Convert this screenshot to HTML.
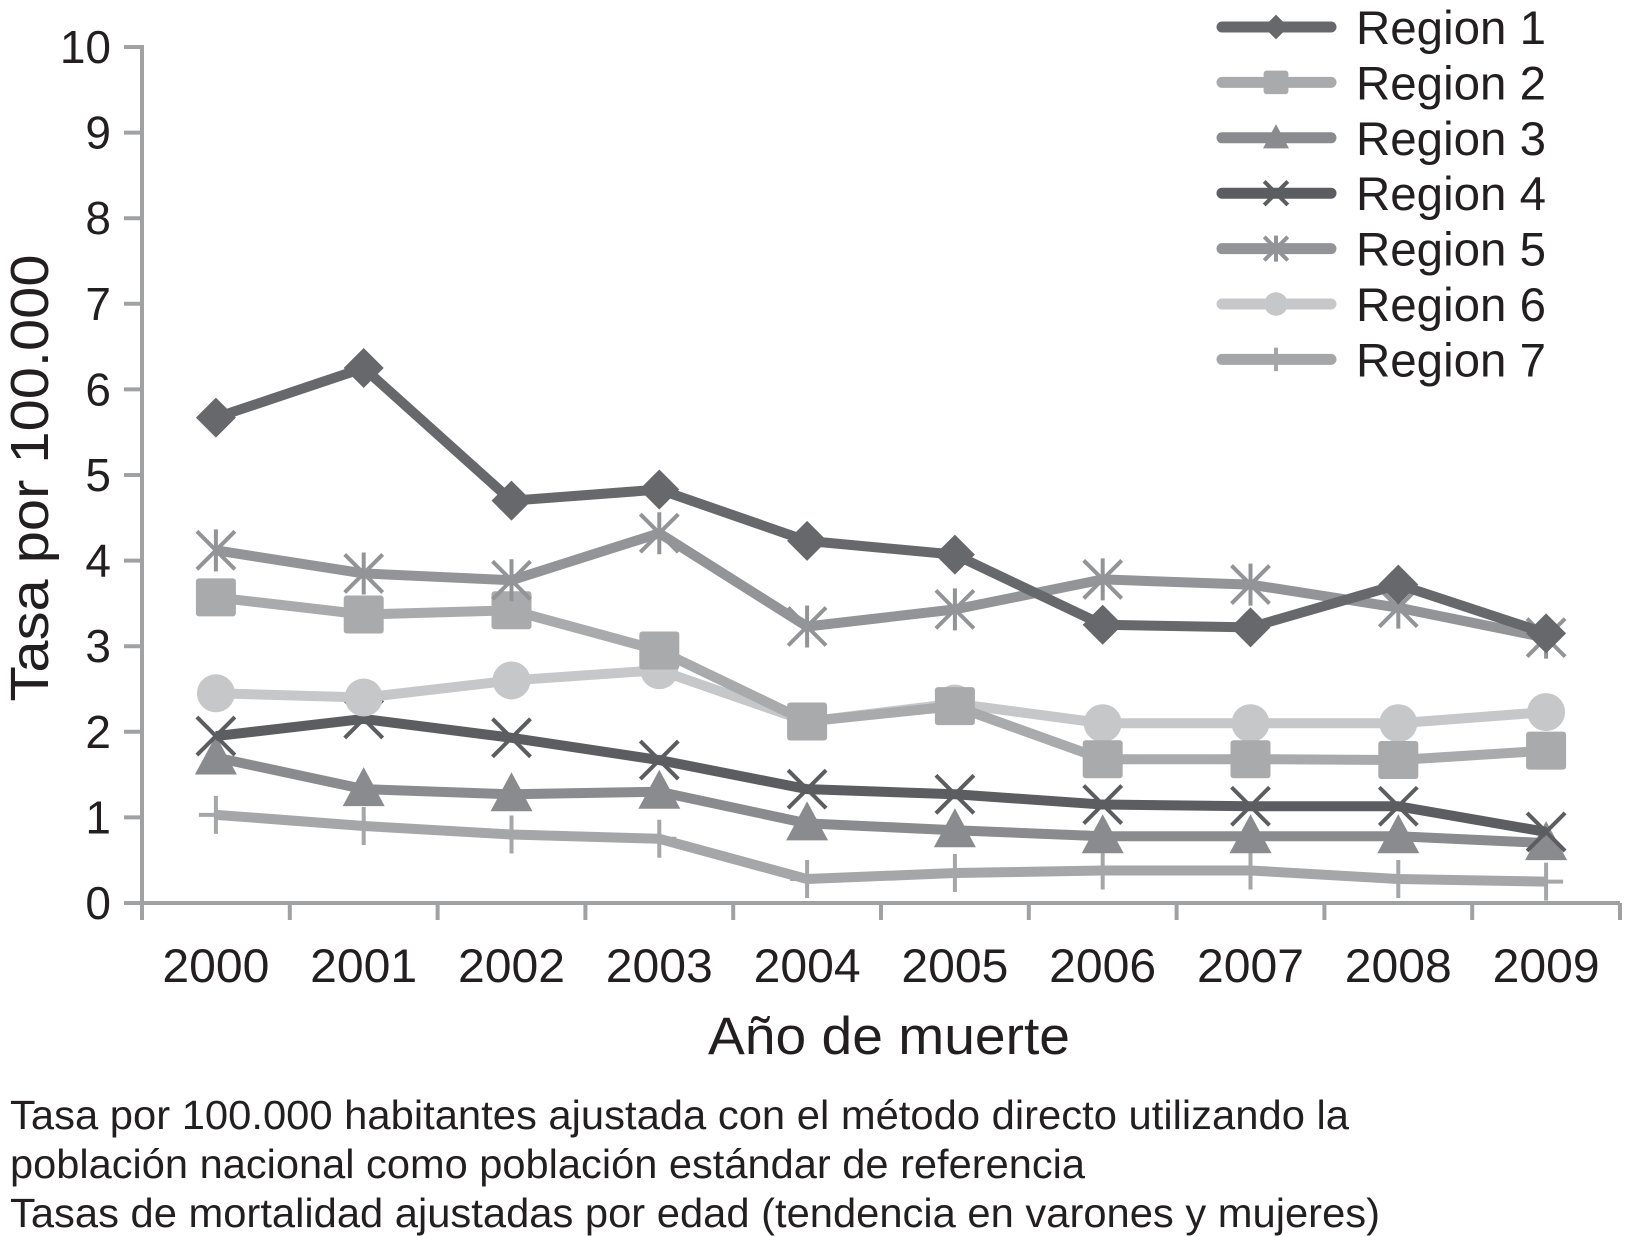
<!DOCTYPE html>
<html><head><meta charset="utf-8"><style>
html,body{margin:0;padding:0;background:#fff;}
svg{display:block;font-family:"Liberation Sans",Arial,sans-serif;}
</style></head><body>
<svg id="chart" width="1631" height="1237" viewBox="0 0 1631 1237" xmlns="http://www.w3.org/2000/svg">
<g id="axes"></g>
<g id="series"></g>
<g id="legend"></g>
<text x="889" y="1054" font-size="53" text-anchor="middle" textLength="362" lengthAdjust="spacingAndGlyphs" fill="#231f20">Año de muerte</text>
<text transform="translate(48,478) rotate(-90)" font-size="54" text-anchor="middle" textLength="447" lengthAdjust="spacingAndGlyphs" fill="#231f20">Tasa por  100.000</text>
<text x="10" y="1129" font-size="41" textLength="1339" lengthAdjust="spacingAndGlyphs" fill="#231f20">Tasa por 100.000 habitantes ajustada con el método directo utilizando la</text>
<text x="10" y="1178" font-size="41" textLength="1075" lengthAdjust="spacingAndGlyphs" fill="#231f20">población nacional como población estándar de referencia</text>
<text x="10" y="1227" font-size="41" textLength="1370" lengthAdjust="spacingAndGlyphs" fill="#231f20">Tasas de mortalidad ajustadas por edad (tendencia en varones y mujeres)</text>
</svg>
<script>
const categories = ["2000","2001","2002","2003","2004","2005","2006","2007","2008","2009"];
const yTicks = [0,1,2,3,4,5,6,7,8,9,10];
const seriesNames = ["Region 1","Region 2","Region 3","Region 4","Region 5","Region 6","Region 7"];
const region1 = [5.67,6.25,4.7,4.83,4.23,4.07,3.25,3.22,3.72,3.15];
const region2 = [3.57,3.37,3.42,2.95,2.12,2.3,1.68,1.68,1.67,1.78];
const region3 = [1.7,1.33,1.27,1.3,0.93,0.85,0.78,0.78,0.78,0.7];
const region4 = [1.95,2.15,1.93,1.67,1.33,1.27,1.15,1.13,1.13,0.83];
const region5 = [4.12,3.85,3.77,4.32,3.23,3.43,3.78,3.72,3.45,3.1];
const region6 = [2.45,2.4,2.6,2.72,2.12,2.33,2.1,2.1,2.1,2.23];
const region7 = [1.03,0.9,0.8,0.75,0.28,0.35,0.38,0.38,0.28,0.25];

const NS="http://www.w3.org/2000/svg";
const X0=142, X1=1620, Y0=903, Y10=47;
const catW=(X1-X0)/categories.length;
function xPos(i){return X0+catW*(i+0.5);}
function yPos(v){return Y0-(Y0-Y10)*v/10;}
function mk(tag,attrs,parent){const e=document.createElementNS(NS,tag);for(const k in attrs)e.setAttribute(k,attrs[k]);parent.appendChild(e);return e;}

const axes=document.getElementById('axes');
const axisCol="#a0a1a3";
let e=mk('line',{x1:X0,y1:Y10-2,x2:X0,y2:Y0,stroke:axisCol,'stroke-width':4},axes);


e=mk('line',{x1:X0-18,y1:Y0,x2:X1,y2:Y0,stroke:axisCol,'stroke-width':4},axes);


yTicks.forEach(v=>{
  const t=mk('line',{x1:X0-18,y1:yPos(v),x2:X0,y2:yPos(v),stroke:axisCol,'stroke-width':4},axes);
  
  
  const l=mk('text',{x:111,y:yPos(v)+16,'font-size':46,'text-anchor':'end',fill:'#231f20'},axes);
  l.textContent=v;
  
  
});
for(let i=0;i<=categories.length;i++){
  const t=mk('line',{x1:X0+catW*i,y1:Y0,x2:X0+catW*i,y2:Y0+17,stroke:axisCol,'stroke-width':4},axes);
  
  
}
categories.forEach((c,i)=>{
  const l=mk('text',{x:xPos(i),y:982,'font-size':47,'text-anchor':'middle',textLength:107,lengthAdjust:'spacingAndGlyphs',fill:'#231f20'},axes);
  l.textContent=c;
  
  
});

const allData=[region1,region2,region3,region4,region5,region6,region7];
const colors=["#67686b","#a9aaac","#8a8b8e","#5c5d60","#939497","#c6c7c9","#a5a6a8"];
const markers=["diamond","square","triangle","x","star","circle","plus"];

function drawMarker(g,type,cx,cy,col,s){
  let m;
  if(type==="diamond") m=mk('polygon',{points:`${cx},${cy-20*s} ${cx+20*s},${cy} ${cx},${cy+20*s} ${cx-20*s},${cy}`,fill:col},g);
  else if(type==="square") m=mk('rect',{x:cx-20*s,y:cy-19*s,width:40*s,height:38*s,rx:3,fill:col},g);
  else if(type==="triangle") m=mk('polygon',{points:`${cx},${cy-22*s} ${cx+21*s},${cy+17*s} ${cx-21*s},${cy+17*s}`,fill:col},g);
  else if(type==="circle") m=mk('circle',{cx:cx,cy:cy,r:19*s,fill:col},g);
  else if(type==="x"){m=mk('path',{d:`M${cx-19*s} ${cy-19*s}L${cx+19*s} ${cy+19*s}M${cx+19*s} ${cy-19*s}L${cx-19*s} ${cy+19*s}`,stroke:col,'stroke-width':4,fill:'none'},g);}
  else if(type==="star"){m=mk('path',{d:`M${cx-19*s} ${cy-19*s}L${cx+19*s} ${cy+19*s}M${cx+19*s} ${cy-19*s}L${cx-19*s} ${cy+19*s}M${cx} ${cy-21*s}L${cx} ${cy+21*s}`,stroke:col,'stroke-width':4,fill:'none'},g);}
  else if(type==="plus"){m=mk('path',{d:`M${cx} ${cy-19*s}L${cx} ${cy+19*s}M${cx-17} ${cy}L${cx+17} ${cy}`,stroke:col,'stroke-width':4,fill:'none'},g);}
  
  
}

const seriesG=document.getElementById('series');
const order=[6,2,3,5,1,4,0];
order.forEach(si=>{
  const data=allData[si];
  const g=mk('g',{},seriesG);
  
  
  const pts=data.map((v,i)=>xPos(i)+','+yPos(v)).join(' ');
  const pl=mk('polyline',{points:pts,fill:'none',stroke:colors[si],'stroke-width':10,'stroke-linejoin':'round'},g);
  
  
  data.forEach((v,i)=>drawMarker(g,markers[si],xPos(i),yPos(v),colors[si],1));
});

const legend=document.getElementById('legend');
seriesNames.forEach((n,i)=>{
  const y=27+i*55.4;
  const g=mk('g',{},legend);
  
  
  const l=mk('line',{x1:1222,y1:y,x2:1331,y2:y,stroke:colors[i],'stroke-width':11,'stroke-linecap':'round'},g);
  
  
  drawMarker(g,markers[i],1276,y,colors[i],0.62);
  const t=mk('text',{x:1356,y:y+17,'font-size':47,textLength:190,lengthAdjust:'spacingAndGlyphs',fill:'#231f20'},g);
  t.textContent=n;
  
  
});
</script>
</body></html>
